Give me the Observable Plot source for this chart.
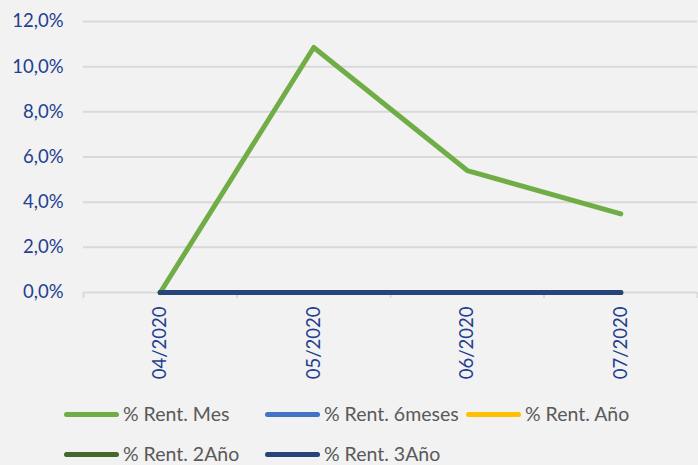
<!DOCTYPE html>
<html>
<head>
<meta charset="utf-8">
<script src="https://cdn.jsdelivr.net/npm/d3@7"></script>
<script src="https://cdn.jsdelivr.net/npm/@observablehq/plot@0.6"></script>
<style>
  html, body { margin: 0; padding: 0; background: #f2f2f2; }
  #chart { width: 698px; height: 465px; position: relative; overflow: hidden; font-family: Lato, sans-serif; }
  #legend { position: absolute; left: 64px; top: 403px; width: 634px; display: grid; grid-template-columns: 201px 201px 201px; row-gap: 18px; }
  .item { display: flex; align-items: center; height: 22px; line-height: 22px; font-size: 19.5px; color: #595959; white-space: nowrap; }
  .sw { width: 55px; height: 5px; border-radius: 3px; margin-right: 4px; flex: none; }
</style>
</head>
<body>
<div id="chart"></div>
<script>
const months = ["04/2020", "05/2020", "06/2020", "07/2020"];
const seriesNames = ["% Rent. Mes", "% Rent. 6meses", "% Rent. Año", "% Rent. 2Año", "% Rent. 3Año"];
const seriesColors = ["#70ad47", "#4472c4", "#ffc000", "#43682b", "#264478"];
const rentMes = [0, 0.1085, 0.054, 0.0348];
const rent6meses = [0, 0, 0, 0];
const rentAno = [0, 0, 0, 0];
const rent2Ano = [0, 0, 0, 0];
const rent3Ano = [0, 0, 0, 0];
const yTicks = [0, 0.02, 0.04, 0.06, 0.08, 0.10, 0.12];

const allSeries = [rentMes, rent6meses, rentAno, rent2Ano, rent3Ano];
const data = [];
allSeries.forEach((vals, s) => vals.forEach((v, i) => data.push({serie: seriesNames[s], i, value: v})));

const fmt = v => d3.format(".1%")(v).replace(".", ",");
const boundaries = d3.range(months.length + 1).map(k => k - 0.5);
const labelColor = "#22408f";

const plot = Plot.plot({
  width: 698,
  height: 390,
  marginLeft: 83,
  marginRight: 1,
  marginTop: 21,
  marginBottom: 98,
  style: { background: "#f2f2f2", fontFamily: "Lato, sans-serif", fontSize: "18px", overflow: "visible" },
  x: { type: "linear", domain: [-0.5, months.length - 0.5] },
  y: { domain: [0, 0.12] },
  color: { domain: seriesNames, range: seriesColors },
  marks: [
    Plot.gridY(yTicks, { stroke: "#d9d9d9", strokeOpacity: 1, strokeWidth: 2 }),
    Plot.axisY(yTicks, { tickSize: 0, tickPadding: 20, tickFormat: fmt, fill: labelColor, label: null, fontSize: 18.5 }),
    Plot.axisX(boundaries, { tickSize: 6, stroke: "#d9d9d9", strokeWidth: 2, tickFormat: () => "", label: null }),
    Plot.axisX(d3.range(months.length), { tickSize: 0, tickPadding: 14, tickRotate: -90, tickFormat: i => months[i], fill: labelColor, label: null, fontSize: 18.5 }),
    ...seriesNames.map(name => Plot.line(data.filter(d => d.serie === name), {
      x: "i", y: "value", stroke: "serie", strokeWidth: 5, strokeLinecap: "round", strokeLinejoin: "round"
    }))
  ]
});

const chart = document.getElementById("chart");
chart.appendChild(plot);
const legend = document.createElement("div");
legend.id = "legend";
seriesNames.forEach((name, k) => {
  const it = document.createElement("div");
  it.className = "item";
  const sw = document.createElement("span");
  sw.className = "sw";
  sw.style.background = seriesColors[k];
  const tx = document.createElement("span");
  tx.textContent = name;
  it.appendChild(sw); it.appendChild(tx);
  legend.appendChild(it);
});
chart.appendChild(legend);
</script>
</body>
</html>
